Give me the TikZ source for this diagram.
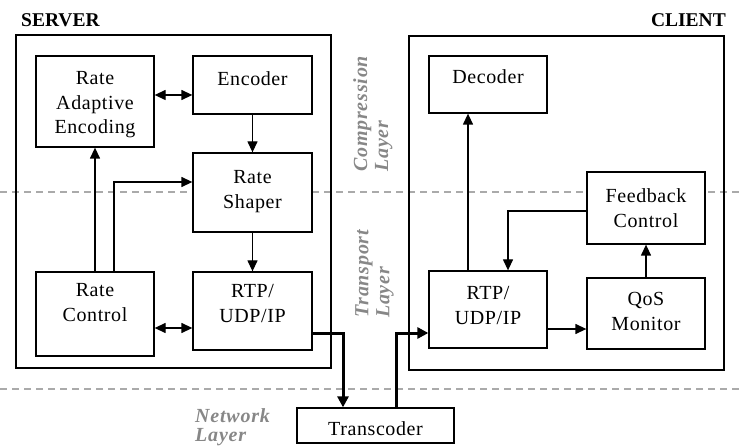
\documentclass[tikz,border=0pt]{standalone}
\usepackage{fontspec}
\setmainfont{Liberation Serif}
\newfontfamily\boxfont{Liberation Serif}[LetterSpace=3]
\newfontfamily\layerfont{Liberation Serif}[LetterSpace=4]
\usetikzlibrary{arrows.meta}

\definecolor{layergray}{RGB}{135,135,135}
\definecolor{dashgray}{RGB}{170,170,170}

\tikzset{
  frame/.style={draw, line width=1.3pt},
  block/.style={draw, fill=white, line width=1.3pt, inner sep=0pt},
  blocktext/.style={anchor=north, inner sep=0pt, align=center,
    font=\boxfont\fontsize{20}{24.5}\selectfont},
  sidetitle/.style={inner sep=0pt, font=\bfseries\fontsize{19.5}{22}\selectfont},
  layertext/.style={inner sep=0pt, align=left, text=layergray,
    font=\layerfont\bfseries\itshape\fontsize{20}{21}\selectfont},
  layerline/.style={draw=dashgray, line width=1.5pt, dash pattern=on 7pt off 5pt},
  arr/.style={line width=1.3pt, -{Triangle[length=11pt,width=10pt]}},
  dbl/.style={line width=1.3pt, {Triangle[length=11pt,width=10pt]}-{Triangle[length=11pt,width=10pt]}},
  thickarr/.style={line width=3pt, -{Triangle[length=11pt,width=11pt]}}
}

\begin{document}
\begin{tikzpicture}[x=1pt,y=-1pt]
\useasboundingbox (0,0) rectangle (741,446);

% layer separators
\draw[layerline] (0,192) -- (741,192);
\draw[layerline] (0,389) -- (741,389);

% server and client frames
\node[frame, minimum width=315pt, minimum height=333pt, inner sep=0pt] (srv) at (173.5,201.5) {};
\node[frame, minimum width=315pt, minimum height=334pt, inner sep=0pt] (cli) at (566.5,203) {};
\node[sidetitle, anchor=base west] (srvtitle) at (21,27) {SERVER};
\node[sidetitle, anchor=base east] (clititle) at (726,27) {CLIENT};

% layer names
\node[layertext, rotate=90, anchor=north west] (complayer) at (353,172) {Compression\\Layer};
\node[layertext, rotate=90, anchor=north west] (translayer) at (355,318) {Transport\\Layer};
\node[layertext, anchor=north west, font=\layerfont\bfseries\itshape\fontsize{20}{19}\selectfont]
  (netlayer) at (195,408) {Network\\Layer};

% server blocks
\node[block, minimum width=118pt, minimum height=91pt] (rae) at (95,101.5) {};
\node[block, minimum width=119pt, minimum height=58pt] (enc) at (252.5,85) {};
\node[block, minimum width=119pt, minimum height=79pt] (shp) at (252.5,192.5) {};
\node[block, minimum width=118pt, minimum height=84pt] (rc) at (95,314) {};
\node[block, minimum width=119pt, minimum height=78pt] (srtp) at (252.5,311) {};

\node[blocktext] (raetext) at (95,71.5) {Rate\\Adaptive\\Encoding};
\node[blocktext] (enctext) at (252.5,71.5) {Encoder};
\node[blocktext] (shptext) at (252.5,170.5) {Rate\\Shaper};
\node[blocktext] (rctext) at (95,283.5) {Rate\\Control};
\node[blocktext] (srtptext) at (252.5,284.5) {RTP/\\UDP/IP};

% client blocks
\node[block, minimum width=118pt, minimum height=57pt] (dec) at (488,84.5) {};
\node[block, minimum width=118pt, minimum height=72pt] (fb) at (646,208) {};
\node[block, minimum width=118pt, minimum height=77pt] (crtp) at (488,309.5) {};
\node[block, minimum width=118pt, minimum height=71pt] (qos) at (646,313.5) {};

\node[blocktext] (dectext) at (488,69.5) {Decoder};
\node[blocktext] (fbtext) at (646,188.5) {Feedback\\Control};
\node[blocktext] (crtptext) at (488,286.5) {RTP/\\UDP/IP};
\node[blocktext] (qostext) at (646,292.5) {QoS\\Monitor};

% network element
\node[block, minimum width=157pt, minimum height=35pt] (trc) at (375.5,425.5) {};
\node[blocktext] (trctext) at (375.5,421.5) {Transcoder};

% routing points
\coordinate (raeenc) at (0,95);
\coordinate (rcshp) at (114,182);
\coordinate (rcrtp) at (0,328);
\coordinate (sout) at (343,333);
\coordinate (cin) at (396,333);
\coordinate (updec) at (468,0);
\coordinate (fbback) at (508,211);
\coordinate (rtpqos) at (0,329);

% server connectors
\draw[dbl] (rae.east |- raeenc) -- (enc.west |- raeenc);
\draw[arr] (enc) -- (shp);
\draw[arr] (rc) -- (rae);
\draw[arr] (rc.north -| rcshp) |- (shp.west |- rcshp);
\draw[arr] (shp) -- (srtp);
\draw[dbl] (rc.east |- rcrtp) -- (srtp.west |- rcrtp);

% through the network
\draw[thickarr] (srtp.east |- sout) -| (trc.north -| sout);
\draw[thickarr] (trc.north -| cin) |- (crtp.west |- cin);

% client connectors
\draw[arr] (crtp.north -| updec) -- (dec.south -| updec);
\draw[arr] (fb.west |- fbback) -| (crtp.north -| fbback);
\draw[arr] (crtp.east |- rtpqos) -- (qos.west |- rtpqos);
\draw[arr] (qos) -- (fb);
\end{tikzpicture}
\end{document}
